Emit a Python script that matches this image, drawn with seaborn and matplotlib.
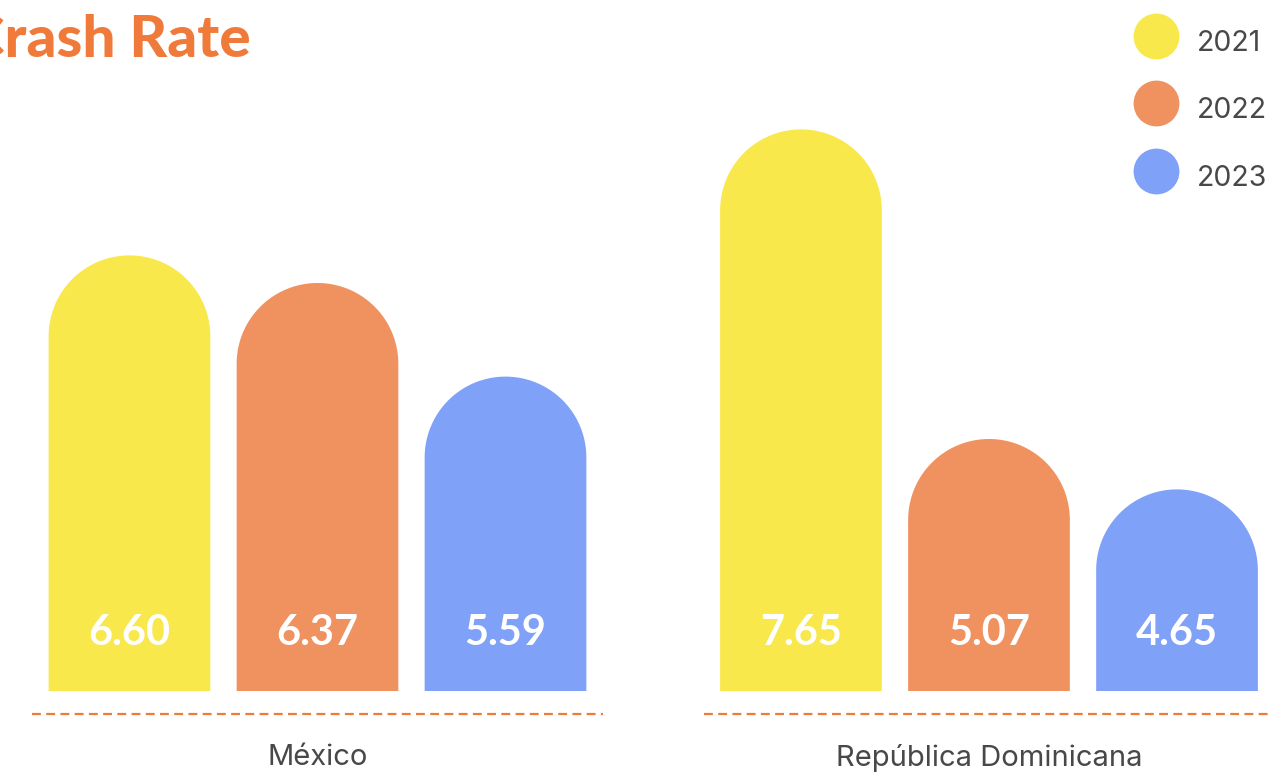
import numpy as np
import pandas as pd
import matplotlib
matplotlib.use("Agg")
import matplotlib.pyplot as plt
import matplotlib.transforms as mtransforms
from matplotlib.path import Path
from matplotlib.patches import PathPatch
from matplotlib.lines import Line2D
import seaborn as sns

# ---- data -------------------------------------------------------------
countries = ["México", "República Dominicana"]
years = ["2021", "2022", "2023"]
rate_2021 = [6.60, 7.65]
rate_2022 = [6.37, 5.07]
rate_2023 = [5.59, 4.65]
year_colors = ["#F9E84C", "#F09160", "#7FA1F7"]

df = pd.DataFrame({
    "country": countries * 3,
    "year": [y for y in years for _ in countries],
    "rate": rate_2021 + rate_2022 + rate_2023,
})

# ---- style ------------------------------------------------------------
sns.set_theme(style="white")
plt.rcParams["font.family"] = ["Lato", "DejaVu Sans"]
label_font = ["Inter", "DejaVu Sans"]
text_gray = "#484848"

W, H, DPI = 1268, 772, 100
fig = plt.figure(figsize=(W / DPI, H / DPI), dpi=DPI)
ax_bottom_px = 81
ax = fig.add_axes([0, ax_bottom_px / H, 1, (H - ax_bottom_px) / H])

sns.barplot(data=df, x="country", y="rate", hue="year", hue_order=years,
            palette=year_colors, saturation=1, width=0.84, gap=0.14,
            legend=False, ax=ax)

# value axis starts above zero so differences stand out
y_min = 2.97
px_per_unit = 120.0
ax.set_ylim(y_min, y_min + (H - ax_bottom_px) / px_per_unit)
ax.set_xlim(-0.4728, 1.4155)
sns.despine(ax=ax, left=True, bottom=True)
ax.set_yticks([])
ax.set_xlabel("")
ax.set_ylabel("")
ax.tick_params(axis="x", length=0, pad=38, labelsize=21, labelcolor=text_gray)
for lbl in ax.get_xticklabels():
    lbl.set_family(label_font)

# replace each rectangle with a bar that has a semicircular cap
fig.canvas.draw()
x_px = ax.transData.transform((1, 0))[0] - ax.transData.transform((0, 0))[0]
y_px = ax.transData.transform((0, 1))[1] - ax.transData.transform((0, 0))[1]
blend = mtransforms.blended_transform_factory(ax.transData, ax.transAxes)
theta = np.linspace(np.pi, 0, 90)
for p in list(ax.patches):
    x0, w, h = p.get_x(), p.get_width(), p.get_height()
    r_y = (w * x_px / 2) / y_px
    cx = x0 + w / 2
    arc_x = cx + (w / 2) * np.cos(theta)
    arc_y = (h - r_y) + r_y * np.sin(theta)
    verts = ([(x0, 0.0)] + list(zip(arc_x, arc_y)) + [(x0 + w, 0.0), (x0, 0.0)])
    codes = [Path.MOVETO] + [Path.LINETO] * (len(verts) - 2) + [Path.CLOSEPOLY]
    ax.add_patch(PathPatch(Path(verts, codes), facecolor=p.get_facecolor(),
                           linewidth=0))
    p.set_visible(False)
    ax.annotate(f"{h:.2f}", xy=(cx, 0), xycoords=blend,
                xytext=(0, 42), textcoords="offset points",
                ha="center", va="center", fontsize=30, fontweight="bold",
                color="white")

# dashed baseline under each country group
for i in range(len(countries)):
    ax.plot([i - 0.425, i + 0.425], [-0.033, -0.033], transform=blend,
            clip_on=False, color="#F07A3A", lw=1.6, ls=(0, (4, 2.4)))

# legend with round swatches
handles = [Line2D([], [], ls="", marker="o", markersize=33,
                  markerfacecolor=c, markeredgewidth=0) for c in year_colors]
fig.legend(handles, years, loc="upper right",
           bbox_to_anchor=(1.006, 1 - 12 / H), frameon=False,
           prop={"family": label_font, "size": 20.5}, labelcolor=text_gray,
           handlelength=1.5, handleheight=1.9, labelspacing=0.9,
           handletextpad=0.68, borderaxespad=0.1, borderpad=0.2)

fig.text(-0.027, 1 - 57 / H, "Crash Rate", fontsize=42, fontweight="black",
         color="#F07A3A", va="baseline", ha="left")

fig.savefig("out.png", dpi=DPI)
